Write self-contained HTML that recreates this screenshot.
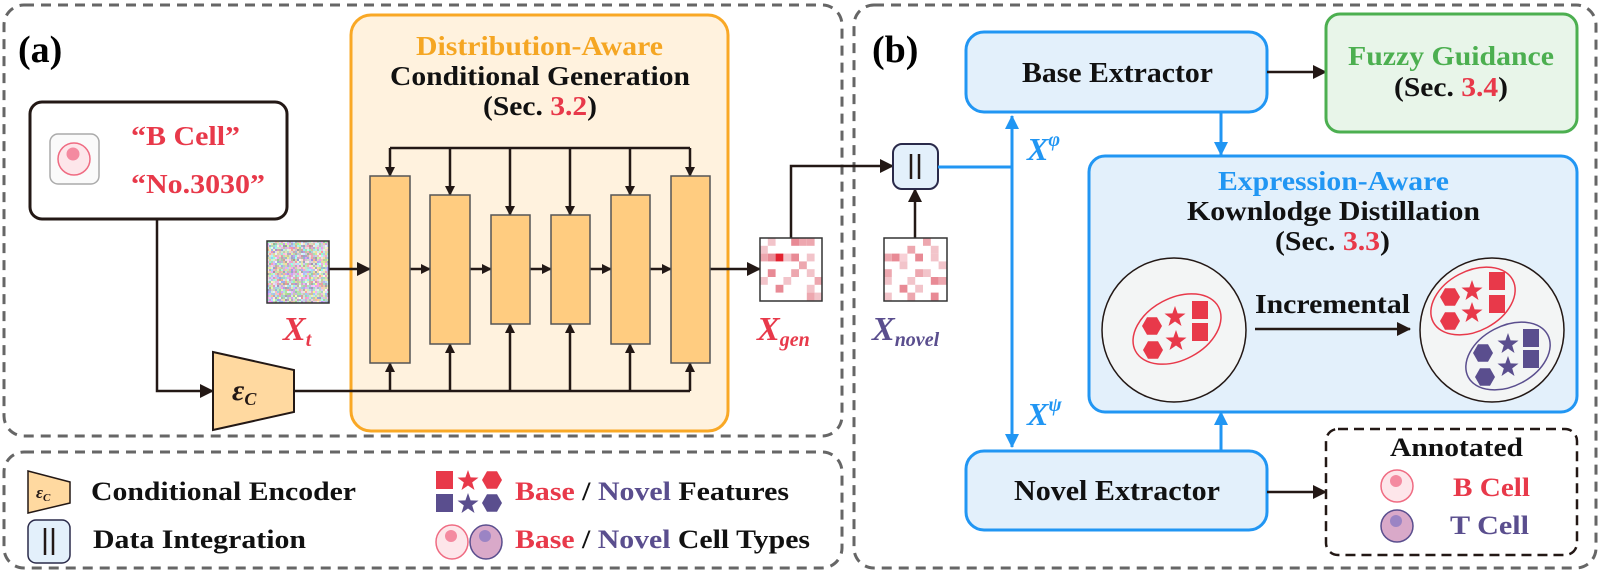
<!DOCTYPE html>
<html><head><meta charset="utf-8"><style>
html,body{margin:0;padding:0;background:#fff;}
svg{display:block;}
text{font-family:"Liberation Serif",serif;font-weight:bold;}
</style></head><body>
<svg id="s" width="1600" height="574" viewBox="0 0 1600 574" xmlns="http://www.w3.org/2000/svg">
<defs>
<marker id="ak" markerWidth="10" markerHeight="10" refX="9" refY="5" orient="auto" markerUnits="userSpaceOnUse"><path d="M0,0 L10,5 L0,10 z" fill="#231815"/></marker>
<marker id="ak2" markerWidth="14" markerHeight="14" refX="13" refY="7" orient="auto" markerUnits="userSpaceOnUse"><path d="M0,0 L14,7 L0,14 z" fill="#231815"/></marker>
<marker id="ab" markerWidth="14" markerHeight="14" refX="13" refY="7" orient="auto" markerUnits="userSpaceOnUse"><path d="M0,0 L14,7 L0,14 z" fill="#2196F3"/></marker>
<marker id="abs" markerWidth="14" markerHeight="14" refX="1" refY="7" orient="auto" markerUnits="userSpaceOnUse"><path d="M14,0 L0,7 L14,14 z" fill="#2196F3"/></marker>
<polygon id="hex" points="10,0 5,8.7 -5,8.7 -10,0 -5,-8.7 5,-8.7"/>
<polygon id="star" points="0,-11 2.6,-3.6 10.5,-3.4 4.2,1.4 6.5,9 0,4.5 -6.5,9 -4.2,1.4 -10.5,-3.4 -2.6,-3.6"/>
<rect id="sq" x="-8" y="-9" width="16" height="18"/>
</defs>

<!-- panel frames -->
<rect x="4" y="5" width="838" height="431" rx="20" fill="none" stroke="#666" stroke-width="3" stroke-dasharray="10,7"/>
<rect x="4" y="452" width="838" height="116" rx="20" fill="none" stroke="#666" stroke-width="3" stroke-dasharray="10,7"/>
<rect x="854" y="5" width="742" height="563" rx="20" fill="none" stroke="#666" stroke-width="3" stroke-dasharray="10,7"/>

<text x="18" y="62" font-size="38">(a)</text>
<text x="872" y="62" font-size="38">(b)</text>

<!-- text box -->
<rect x="30" y="102" width="257" height="117" rx="12" fill="#fff" stroke="#231815" stroke-width="3"/>
<rect x="50" y="134" width="49" height="50" rx="8" fill="#fafafa" stroke="#aaa" stroke-width="1.5"/>
<circle cx="74" cy="159" r="16" fill="#fde6ea" stroke="#ef6b82" stroke-width="1.5"/>
<circle cx="73" cy="154" r="6.5" fill="#f48aa0"/>
<text x="131" y="145" font-size="27" fill="#E8394A" textLength="109" lengthAdjust="spacingAndGlyphs">“B Cell”</text>
<text x="131" y="193" font-size="27" fill="#E8394A" textLength="134" lengthAdjust="spacingAndGlyphs">“No.3030”</text>

<!-- orange box -->
<rect x="351" y="15" width="377" height="416" rx="20" fill="#FFF2DE" stroke="#F9A825" stroke-width="3"/>
<text x="416" y="55" font-size="27" fill="#F5A623" textLength="247" lengthAdjust="spacingAndGlyphs">Distribution-Aware</text>
<text x="390" y="85" font-size="27" fill="#111" textLength="300" lengthAdjust="spacingAndGlyphs">Conditional Generation</text>
<text x="483" y="115" font-size="27" fill="#111" textLength="114" lengthAdjust="spacingAndGlyphs">(Sec. <tspan fill="#E8394A">3.2</tspan>)</text>

<g stroke="#231815" stroke-width="2.5" fill="none">
<path d="M390,148 H690"/>
<path d="M390,148 V176" marker-end="url(#ak)"/>
<path d="M450,148 V195" marker-end="url(#ak)"/>
<path d="M510,148 V215" marker-end="url(#ak)"/>
<path d="M570,148 V215" marker-end="url(#ak)"/>
<path d="M630,148 V195" marker-end="url(#ak)"/>
<path d="M690,148 V176" marker-end="url(#ak)"/>
<path d="M294,391 H690"/>
<path d="M390,391 V363" marker-end="url(#ak)"/>
<path d="M450,391 V344" marker-end="url(#ak)"/>
<path d="M510,391 V324" marker-end="url(#ak)"/>
<path d="M570,391 V324" marker-end="url(#ak)"/>
<path d="M630,391 V344" marker-end="url(#ak)"/>
<path d="M690,391 V363" marker-end="url(#ak)"/>
<path d="M329,269 H370" marker-end="url(#ak2)"/>
<path d="M410,269 H430" marker-end="url(#ak)"/>
<path d="M470,269 H491" marker-end="url(#ak)"/>
<path d="M530,269 H551" marker-end="url(#ak)"/>
<path d="M590,269 H611" marker-end="url(#ak)"/>
<path d="M650,269 H671" marker-end="url(#ak)"/>
<path d="M710,269 H760" marker-end="url(#ak2)"/>
<path d="M157,219 V391 H213" marker-end="url(#ak2)"/>
<path d="M791,238 V166 H893" marker-end="url(#ak2)"/>
<path d="M915,238 V189" marker-end="url(#ak2)"/>
</g>
<g fill="#FFCC80" stroke="#555" stroke-width="1.5">
<rect x="370" y="176" width="40" height="187"/>
<rect x="430" y="195" width="40" height="149"/>
<rect x="491" y="215" width="39" height="109"/>
<rect x="551" y="215" width="39" height="109"/>
<rect x="611" y="195" width="39" height="149"/>
<rect x="671" y="176" width="39" height="187"/>
</g>

<!-- noise -->
<g id="noise"></g>
<rect x="267" y="241" width="62" height="62" fill="none" stroke="#333" stroke-width="1.5"/>
<text x="283" y="340" font-size="34" font-style="italic" fill="#E8394A">X<tspan font-size="20" dy="6">t</tspan></text>

<!-- encoder -->
<polygon points="213,352 294,370 294,412 213,430" fill="#FFD9A0" stroke="#231815" stroke-width="2"/>
<text x="232" y="400" font-size="30" font-style="italic" fill="#231815">ε<tspan font-size="18" dy="5">C</tspan></text>

<!-- matrices -->
<g id="mgen"></g>
<rect x="760" y="238" width="62" height="63" fill="none" stroke="#333" stroke-width="1.5"/>
<g id="mnov"></g>
<rect x="884" y="238" width="63" height="63" fill="none" stroke="#333" stroke-width="1.5"/>
<text x="757" y="340" font-size="34" font-style="italic" fill="#E8394A">X<tspan font-size="20" dy="6">gen</tspan></text>
<text x="872" y="340" font-size="34" font-style="italic" fill="#5A4E8E">X<tspan font-size="20" dy="6">novel</tspan></text>

<!-- concat -->
<rect x="893" y="144" width="45" height="45" rx="9" fill="#E3F0FB" stroke="#2a2a4a" stroke-width="2"/>
<path d="M911,154 V179 M919,154 V179" stroke="#231815" stroke-width="2.5"/>
<path d="M938,167 H1012" stroke="#2196F3" stroke-width="3"/>
<path d="M1012,116 V447" stroke="#2196F3" stroke-width="3" marker-start="url(#abs)" marker-end="url(#ab)"/>
<text x="1027" y="160" font-size="32" font-style="italic" fill="#2196F3">X<tspan font-size="20" dy="-14">φ</tspan></text>
<text x="1027" y="425" font-size="32" font-style="italic" fill="#2196F3">X<tspan font-size="20" dy="-14">ψ</tspan></text>

<!-- Base extractor -->
<rect x="966" y="32" width="301" height="80" rx="18" fill="#E3F0FB" stroke="#2196F3" stroke-width="3"/>
<text x="1022" y="82" font-size="28" fill="#111" textLength="191" lengthAdjust="spacingAndGlyphs">Base Extractor</text>
<path d="M1267,72 H1326" stroke="#231815" stroke-width="2.5" marker-end="url(#ak2)"/>
<rect x="1326" y="14" width="251" height="118" rx="14" fill="#E8F5E9" stroke="#4CAF50" stroke-width="3"/>
<text x="1348" y="65" font-size="27" fill="#4CAF50" textLength="206" lengthAdjust="spacingAndGlyphs">Fuzzy Guidance</text>
<text x="1394" y="96" font-size="27" fill="#111" textLength="114" lengthAdjust="spacingAndGlyphs">(Sec. <tspan fill="#E8394A">3.4</tspan>)</text>
<path d="M1221,112 V155" stroke="#2196F3" stroke-width="3" marker-end="url(#ab)"/>

<!-- Expression box -->
<rect x="1089" y="156" width="488" height="256" rx="16" fill="#E3F0FB" stroke="#2196F3" stroke-width="3"/>
<text x="1218" y="190" font-size="27" fill="#2196F3" textLength="231" lengthAdjust="spacingAndGlyphs">Expression-Aware</text>
<text x="1187" y="220" font-size="27" fill="#111" textLength="293" lengthAdjust="spacingAndGlyphs">Kownlodge Distillation</text>
<text x="1275" y="250" font-size="27" fill="#111" textLength="115" lengthAdjust="spacingAndGlyphs">(Sec. <tspan fill="#E8394A">3.3</tspan>)</text>

<circle cx="1174" cy="330" r="72" fill="#F3F5F5" stroke="#231815" stroke-width="1.5"/>
<ellipse cx="1177" cy="329" rx="47" ry="31" transform="rotate(-28 1177 329)" fill="none" stroke="#E8394A" stroke-width="1.5"/>
<g fill="#E8394A">
<use href="#hex" x="1152" y="326"/><use href="#hex" x="1153" y="350"/>
<use href="#star" x="1175" y="317"/><use href="#star" x="1176" y="341"/>
<use href="#sq" x="1200" y="310"/><use href="#sq" x="1200" y="332"/>
</g>
<text x="1255" y="313" font-size="27" fill="#111" textLength="155" lengthAdjust="spacingAndGlyphs">Incremental</text>
<path d="M1255,329 H1410" stroke="#231815" stroke-width="2.5" marker-end="url(#ak2)"/>

<circle cx="1492" cy="330" r="72" fill="#F3F5F5" stroke="#231815" stroke-width="1.5"/>
<ellipse cx="1473" cy="301" rx="45" ry="30" transform="rotate(-28 1473 301)" fill="none" stroke="#E8394A" stroke-width="1.5"/>
<ellipse cx="1508" cy="356" rx="45" ry="30" transform="rotate(-28 1508 356)" fill="none" stroke="#5A4E8E" stroke-width="1.5"/>
<g fill="#E8394A">
<use href="#hex" x="1450" y="297"/><use href="#hex" x="1450" y="321"/>
<use href="#star" x="1472" y="291"/><use href="#star" x="1472" y="313"/>
<use href="#sq" x="1497" y="281"/><use href="#sq" x="1497" y="304"/>
</g>
<g fill="#5A4E8E">
<use href="#hex" x="1483" y="353"/><use href="#hex" x="1485" y="377"/>
<use href="#star" x="1508" y="344"/><use href="#star" x="1508" y="367"/>
<use href="#sq" x="1531" y="338"/><use href="#sq" x="1531" y="359"/>
</g>

<!-- Novel extractor -->
<path d="M1221,451 V412" stroke="#2196F3" stroke-width="3" marker-end="url(#ab)"/>
<rect x="966" y="451" width="301" height="79" rx="18" fill="#E3F0FB" stroke="#2196F3" stroke-width="3"/>
<text x="1014" y="500" font-size="28" fill="#111" textLength="206" lengthAdjust="spacingAndGlyphs">Novel Extractor</text>
<path d="M1267,492 H1326" stroke="#231815" stroke-width="2.5" marker-end="url(#ak2)"/>
<rect x="1326" y="429" width="251" height="126" rx="12" fill="none" stroke="#231815" stroke-width="2.5" stroke-dasharray="10,6"/>
<text x="1390" y="456" font-size="26" fill="#111" textLength="133" lengthAdjust="spacingAndGlyphs">Annotated</text>
<circle cx="1397" cy="486" r="16" fill="#fde6ea" stroke="#ef6b82" stroke-width="1.5"/>
<circle cx="1396" cy="481" r="6" fill="#f48aa0"/>
<text x="1453" y="496" font-size="26" fill="#E8394A" textLength="77" lengthAdjust="spacingAndGlyphs">B Cell</text>
<circle cx="1397" cy="526" r="16" fill="#D9A9C9" stroke="#5A4E8E" stroke-width="1.5"/>
<circle cx="1396" cy="521" r="6" fill="#9B84C4"/>
<text x="1450" y="534" font-size="26" fill="#5A4E8E" textLength="79" lengthAdjust="spacingAndGlyphs">T Cell</text>

<!-- legend -->
<polygon points="28,471 70,482 70,503 28,513" fill="#FFD9A0" stroke="#231815" stroke-width="1.5"/>
<text x="36" y="498" font-size="17" font-style="italic" fill="#231815">ε<tspan font-size="11" dy="3">C</tspan></text>
<text x="91" y="500" font-size="26" fill="#111" textLength="265" lengthAdjust="spacingAndGlyphs">Conditional Encoder</text>
<rect x="28" y="520" width="42" height="43" rx="8" fill="#E3F0FB" stroke="#2a2a4a" stroke-width="1.5"/>
<path d="M45,528 V555 M53,528 V555" stroke="#231815" stroke-width="2.5"/>
<text x="93" y="548" font-size="26" fill="#111" textLength="213" lengthAdjust="spacingAndGlyphs">Data Integration</text>
<g fill="#E8394A"><rect x="436" y="471" width="17" height="18"/><use href="#star" x="468" y="481"/><use href="#hex" x="492" y="480"/></g>
<g fill="#5A4E8E"><rect x="436" y="494" width="17" height="18"/><use href="#star" x="468" y="504"/><use href="#hex" x="492" y="503"/></g>
<text x="515" y="500" font-size="26" fill="#111" textLength="274" lengthAdjust="spacingAndGlyphs"><tspan fill="#E8394A">Base</tspan> / <tspan fill="#5A4E8E">Novel</tspan> Features</text>
<ellipse cx="452" cy="542" rx="16" ry="17" fill="#fde6ea" stroke="#ef6b82" stroke-width="1.5"/>
<circle cx="451" cy="536" r="6" fill="#f48aa0"/>
<ellipse cx="486" cy="542" rx="16" ry="17" fill="#D9A9C9" stroke="#5A4E8E" stroke-width="1.5"/>
<circle cx="485" cy="536" r="6" fill="#9B84C4"/>
<text x="515" y="548" font-size="26" fill="#111" textLength="295" lengthAdjust="spacingAndGlyphs"><tspan fill="#E8394A">Base</tspan> / <tspan fill="#5A4E8E">Novel</tspan> Cell Types</text>
</svg>
<script>
(function(){
var NS="http://www.w3.org/2000/svg";
var seed=7;function r(){seed=(seed*16807)%2147483647;return seed/2147483647;}
var g=document.getElementById("noise"),h="";
for(var y=0;y<31;y++)for(var x=0;x<31;x++){
var c="rgb("+(150+Math.floor(r()*105))+","+(150+Math.floor(r()*105))+","+(150+Math.floor(r()*105))+")";
h+='<rect x="'+(267+x*2)+'" y="'+(241+y*2)+'" width="2" height="2" fill="'+c+'"/>';}
g.innerHTML=h;
function mat(id,x0,y0,cells){var s='<rect x="'+x0+'" y="'+y0+'" width="62" height="63" fill="#fff"/>';
for(var i=0;i<cells.length;i++){var a=cells[i];s+='<rect x="'+(x0+a[0]*7.8)+'" y="'+(y0+a[1]*7.8)+'" width="7.8" height="7.8" fill="'+a[2]+'"/>';}
document.getElementById(id).innerHTML=s;}
var p1="#F2C4CA",p2="#E88A95",p3="#EDA7AF",rd="#E3212F";
mat("mgen",760,238,[[1,0,p1],[4,0,p2],[5,0,p3],[6,0,p3],[0,1,p1],[0,2,p3],[1,2,p2],[2,2,rd],[3,2,p1],[4,2,p2],[6,2,p1],[5,3,p3],[1,4,p2],[4,4,p3],[6,4,p1],[0,5,p1],[3,5,p1],[7,5,p3],[2,6,p2],[6,6,p1],[6,7,p3],[7,7,p1]]);
mat("mnov",884,238,[[5,0,p3],[3,1,p3],[6,1,p1],[0,2,p3],[1,2,p2],[2,2,"#F8D0D6"],[4,2,p2],[6,2,p1],[2,3,p1],[7,3,p1],[0,4,p3],[4,4,p3],[5,4,p1],[0,5,p1],[3,5,p1],[6,5,p2],[7,5,p3],[2,6,p2],[4,6,p1],[0,7,p1],[3,7,p3],[6,7,p2]]);
})();
</script>
</body></html>
